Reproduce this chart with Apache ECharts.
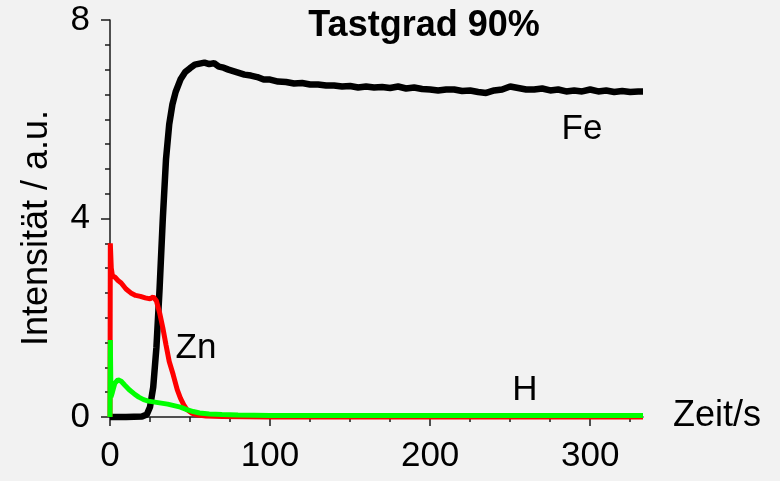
<!DOCTYPE html>
<html>
<head>
<meta charset="utf-8">
<script src="https://cdn.jsdelivr.net/npm/echarts@6/dist/echarts.min.js"></script>
<style>
html,body{margin:0;padding:0;background:#f2f2f2;}
#c{width:780px;height:481px;}
</style>
</head>
<body>
<div id="c"></div>
<script>
// Data: [time in s, intensity in a.u.]
var feData = [[0,0],[10,0],[20,0.01],[23,0.05],[25,0.2],[27,0.6],[29,1.4],[31,2.6],[33,4.0],[35,5.2],[37,5.9],[39,6.3],[41,6.55],[44,6.8],[47,6.95],[50,7.03],[53,7.1],[56,7.12],[59,7.14],[62,7.11],[65,7.13],[68,7.06],[71,7.04],[74,7.0],[77,6.97],[80,6.94],[84,6.9],[88,6.88],[92,6.85],[96,6.8],[100,6.8],[105,6.76],[110,6.75],[115,6.72],[120,6.73],[125,6.7],[130,6.7],[135,6.68],[140,6.68],[145,6.66],[150,6.67],[155,6.64],[160,6.66],[165,6.64],[170,6.65],[175,6.63],[180,6.66],[185,6.62],[190,6.64],[195,6.61],[200,6.6],[205,6.58],[210,6.6],[215,6.6],[220,6.57],[225,6.58],[230,6.55],[235,6.53],[240,6.58],[245,6.6],[250,6.66],[255,6.63],[260,6.6],[265,6.6],[270,6.62],[275,6.58],[280,6.6],[285,6.56],[290,6.58],[295,6.56],[300,6.6],[305,6.56],[310,6.58],[315,6.55],[320,6.57],[325,6.55],[330,6.56],[333,6.56]];
var znData = [[0,0],[0.2,3.5],[0.8,3.0],[1.5,2.85],[3,2.82],[5,2.75],[7,2.7],[10,2.58],[13,2.5],[16,2.45],[19,2.43],[22,2.4],[25,2.38],[27,2.42],[29,2.34],[31,2.1],[33,1.8],[35,1.45],[37,1.12],[39.5,0.85],[42,0.55],[44,0.38],[46,0.25],[48,0.15],[51,0.08],[55,0.04],[60,0.02],[70,0.01],[100,0],[333,0]];
var hData = [[0,0],[0.2,1.55],[0.6,0.4],[1.5,0.5],[3,0.68],[5,0.75],[7,0.72],[9,0.65],[12,0.55],[15,0.47],[18,0.4],[21,0.35],[24,0.32],[28,0.3],[32,0.28],[36,0.26],[40,0.23],[44,0.2],[48,0.15],[52,0.11],[56,0.08],[62,0.06],[70,0.05],[80,0.04],[100,0.03],[150,0.03],[200,0.03],[250,0.03],[300,0.03],[333,0.03]];
var xMajorTicks = [0,100,200,300];
var xMinorTicks = [25,50,75,125,150,175,225,250,275,325];
var titleText = 'Tastgrad 90%';
var xName = 'Zeit/s';
var yName = 'Intensität / a.u.';
var seriesLabels = ['Fe','Zn','H'];

var FONT = 'Liberation Sans, Arial, sans-serif';
var chart = echarts.init(document.getElementById('c'), null, {renderer:'canvas'});
var axisColor = '#1a1a1a';
chart.setOption({
  backgroundColor:'#f2f2f2',
  animation:false,
  grid:{left:110,right:137,top:20,bottom:64},
  xAxis:[{
    type:'value',min:0,max:333,
    axisLine:{show:true,lineStyle:{color:axisColor,width:1.5}},
    axisTick:{show:true,customValues:xMajorTicks,length:9,lineStyle:{color:axisColor,width:1.5}},
    axisLabel:{customValues:xMajorTicks,color:'#000',fontSize:35,fontFamily:FONT,margin:22},
    splitLine:{show:false}
  },{
    type:'value',min:0,max:333,position:'bottom',
    axisLine:{show:false},
    axisTick:{show:true,customValues:xMinorTicks,length:5,lineStyle:{color:axisColor,width:1.5}},
    axisLabel:{show:false},
    splitLine:{show:false}
  }],
  yAxis:{
    type:'value',min:0,max:8,interval:4,
    axisLine:{show:true,lineStyle:{color:axisColor,width:1.5}},
    axisTick:{show:true,length:9,lineStyle:{color:axisColor,width:1.5}},
    minorTick:{show:true,splitNumber:8,length:5,lineStyle:{color:axisColor,width:1.5}},
    axisLabel:{color:'#000',fontSize:35,fontFamily:FONT,margin:20},
    splitLine:{show:false}
  },
  graphic:[
    {type:'text',x:424,y:26,style:{text:titleText,font:'bold 36px '+FONT,fill:'#000',textAlign:'center',textVerticalAlign:'middle'}},
    {type:'text',x:582,y:129,style:{text:seriesLabels[0],font:'35px '+FONT,fill:'#000',textAlign:'center',textVerticalAlign:'middle'}},
    {type:'text',x:196,y:348,style:{text:seriesLabels[1],font:'35px '+FONT,fill:'#000',textAlign:'center',textVerticalAlign:'middle'}},
    {type:'text',x:525,y:390,style:{text:seriesLabels[2],font:'35px '+FONT,fill:'#000',textAlign:'center',textVerticalAlign:'middle'}},
    {type:'text',x:717,y:416,style:{text:xName,font:'36px '+FONT,fill:'#000',textAlign:'center',textVerticalAlign:'middle'}},
    {type:'text',x:37,y:228,rotation:Math.PI/2,style:{text:yName,font:'36px '+FONT,fill:'#000',textAlign:'center',textVerticalAlign:'middle'}}
  ],
  series:[
    {type:'line',name:'Fe',data:feData,showSymbol:false,clip:false,lineStyle:{color:'#000',width:6.5},z:2},
    {type:'line',name:'Zn',data:znData,showSymbol:false,clip:false,lineStyle:{color:'#ff0000',width:5},z:3},
    {type:'line',name:'H',data:hData,showSymbol:false,clip:false,lineStyle:{color:'#00ff00',width:5},z:4}
  ]
});
</script>
</body>
</html>
